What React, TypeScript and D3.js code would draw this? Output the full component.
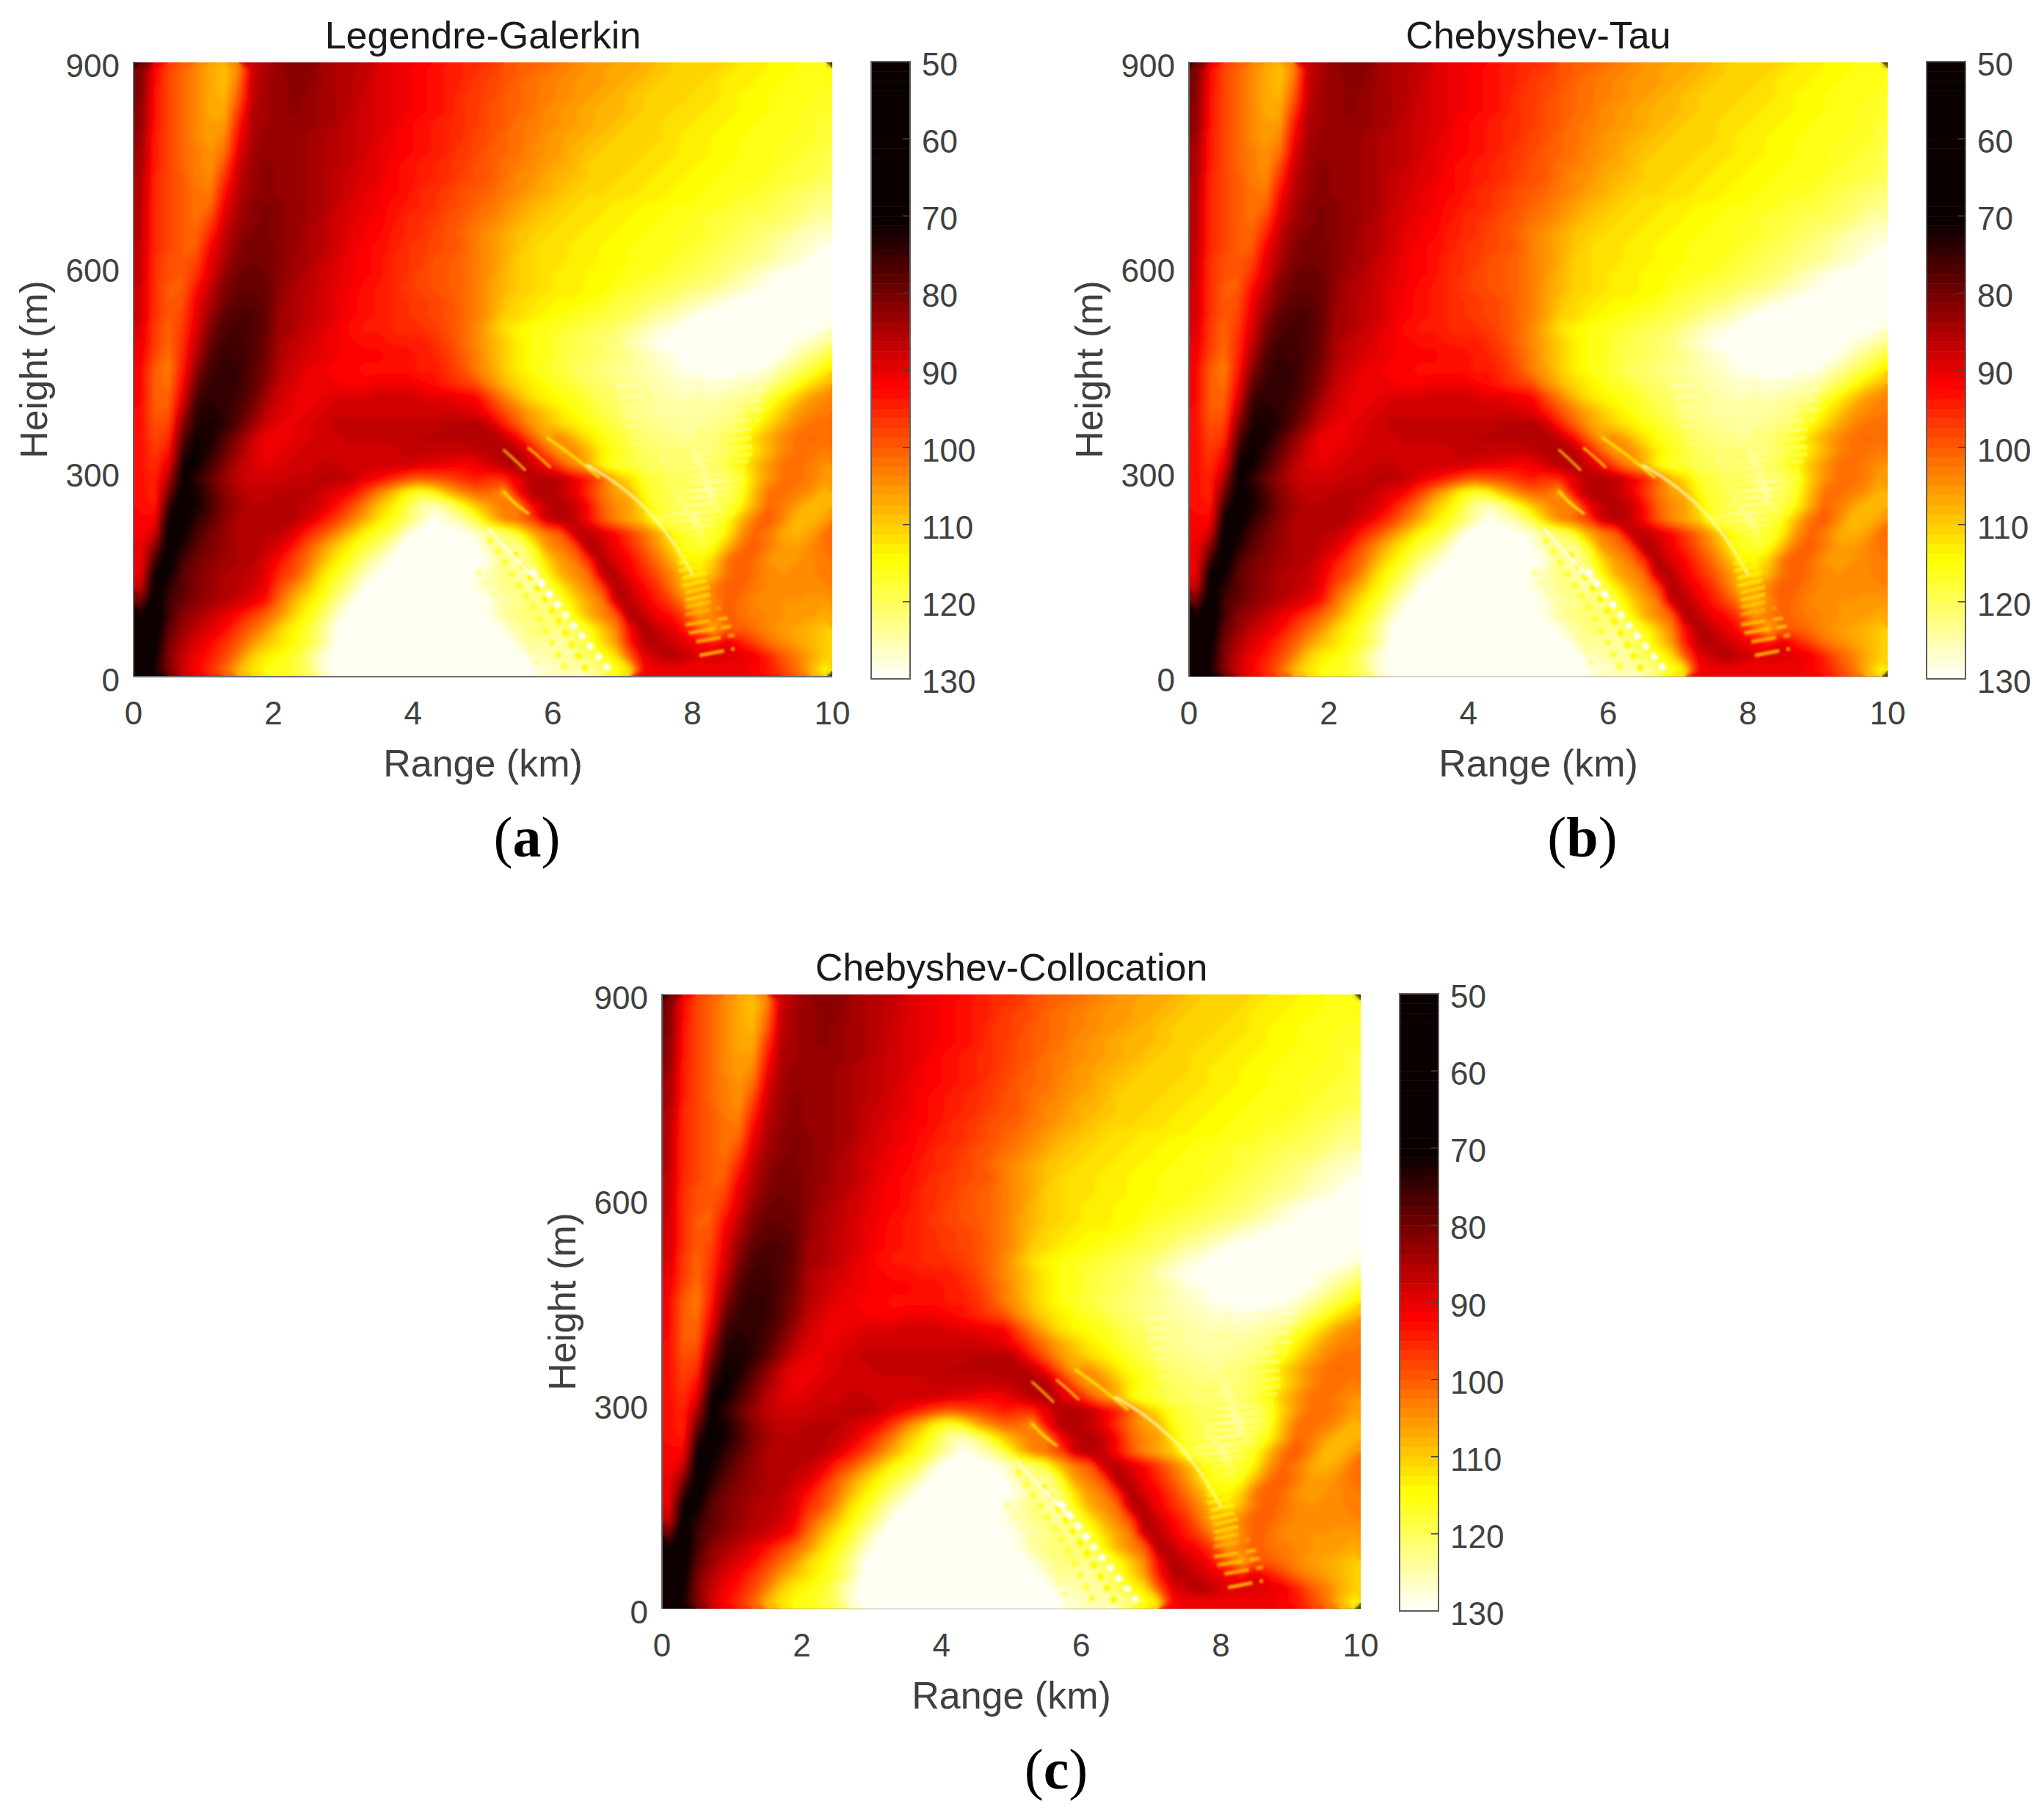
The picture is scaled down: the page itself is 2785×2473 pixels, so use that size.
import React from 'react';
import * as d3 from 'd3';

// Field, in dB. Rows run from 890 m down to 10 m (20 m cells),
// columns from 0.1 km to 9.9 km (0.2 km cells). The three panels look identical at this scale.
const fieldRows: number[][] = [
  [80,92,98,101,104,107,109,104,88,85, 83,82,82,84,85,86,87,89,90,91, 92,93,94,95,96,97,99,100,101,102, 103,104,105,106,107,107,108,109,110,110, 111,111,112,113,113,114,114,115,115,116],
  [81,92,98,101,104,107,109,102,87,84, 83,82,82,84,85,86,87,89,90,91, 92,93,94,95,97,98,99,101,102,103, 104,105,105,106,107,108,109,110,110,111, 111,112,113,113,114,114,115,115,116,116],
  [81,93,98,101,104,107,108,100,87,84, 83,82,83,84,85,86,88,89,90,91, 92,93,94,96,97,98,100,101,102,103, 104,105,106,107,108,109,110,110,111,111, 112,112,113,114,114,115,115,116,116,117],
  [82,93,98,101,104,107,107,97,86,84, 83,82,83,84,85,86,88,89,90,91, 92,93,94,96,97,99,100,101,102,104, 105,106,107,108,108,109,110,111,111,112, 112,113,113,114,114,115,116,116,117,117],
  [82,93,98,101,104,106,106,94,85,84, 83,83,83,84,85,87,88,89,90,92, 93,94,95,96,97,99,100,102,103,104, 105,106,107,108,109,110,111,111,112,112, 113,113,114,114,115,115,116,116,117,118],
  [83,94,98,101,104,106,104,92,85,83, 83,83,84,85,86,87,88,89,91,92, 93,94,95,96,98,99,101,102,103,105, 106,107,108,109,110,110,111,111,112,113, 113,114,114,115,115,116,116,117,117,118],
  [84,94,98,101,103,105,102,90,84,83, 83,83,84,85,86,87,88,90,91,92, 93,94,95,97,98,100,101,102,104,105, 106,108,109,110,110,111,111,112,112,113, 113,114,114,115,115,116,117,117,118,119],
  [84,94,98,101,103,105,99,88,84,82, 83,83,84,85,86,87,89,90,92,93, 94,95,96,97,99,100,102,103,104,106, 107,108,110,110,111,111,112,112,113,113, 114,114,115,115,116,116,117,118,118,119],
  [85,95,98,100,103,104,96,87,83,82, 83,83,84,85,87,88,89,90,92,93, 94,95,96,98,99,100,102,104,105,107, 108,109,110,111,111,112,112,113,113,114, 114,115,115,116,116,117,118,118,119,120],
  [85,95,98,100,102,103,93,86,83,82, 83,83,84,85,87,88,90,91,92,93, 95,96,97,99,100,101,103,104,106,107, 109,110,111,111,112,112,113,113,114,114, 115,115,116,117,117,118,119,120,121,122],
  [86,95,98,100,102,101,91,85,82,81, 82,83,84,85,87,89,90,91,93,94, 95,96,98,99,101,102,104,106,108,109, 110,111,112,112,113,113,114,114,115,115, 116,116,117,118,118,119,120,121,122,123],
  [86,95,98,100,102,98,89,84,82,81, 82,83,84,86,88,89,91,92,93,95, 96,97,99,100,102,103,105,107,109,110, 111,112,112,113,113,114,114,115,115,116, 117,118,118,119,120,120,121,122,124,125],
  [86,95,98,100,101,95,87,83,81,81, 82,83,85,86,88,90,91,92,94,95, 96,98,99,101,103,105,107,109,110,111, 112,112,113,113,114,114,115,115,116,117, 117,118,119,120,121,122,123,125,126,127],
  [87,95,98,100,100,92,86,82,80,80, 82,83,85,86,88,90,92,93,94,96, 97,98,99,100,103,105,107,109,111,112, 112,113,113,114,114,115,115,116,116,117, 118,119,120,121,122,123,125,126,127,129],
  [87,96,99,100,98,90,85,81,80,80, 82,84,85,87,89,91,92,93,95,96, 97,99,100,101,103,105,107,110,111,112, 112,113,113,114,114,115,115,116,117,118, 119,120,121,122,123,124,126,127,129,130],
  [87,96,99,100,96,89,83,80,79,80, 82,84,86,88,89,91,92,93,95,96, 98,99,100,101,103,105,108,110,111,112, 113,113,114,114,115,116,116,117,118,119, 120,121,122,124,126,128,129,130,130,130],
  [88,96,100,100,93,87,81,79,79,79, 83,85,86,88,90,91,93,94,95,97, 98,99,100,101,103,106,108,110,111,112, 113,113,114,114,116,117,118,119,120,121, 122,123,125,126,128,129,130,130,130,130],
  [88,96,100,99,91,85,80,78,78,79, 83,85,87,88,90,92,93,94,95,96, 97,98,99,101,103,106,109,111,112,113, 114,114,115,116,118,119,120,121,122,124, 125,127,128,130,130,130,130,130,130,130],
  [88,96,100,98,90,83,78,77,77,79, 84,85,87,88,90,92,93,94,95,96, 97,98,99,101,103,106,110,111,113,114, 115,116,117,118,119,120,122,124,125,127, 129,130,130,130,130,130,130,130,130,130],
  [89,97,101,97,89,81,77,76,77,79, 84,85,87,89,91,93,94,94,95,96, 96,97,99,101,104,108,112,114,115,116, 117,118,119,120,121,123,125,127,128,130, 130,130,130,130,130,130,130,130,130,128],
  [90,97,101,96,87,79,76,76,77,80, 85,87,88,90,91,92,93,93,94,94, 94,96,98,101,104,107,110,113,115,116, 118,119,120,121,122,125,127,129,130,130, 130,130,130,130,130,130,129,128,126,124],
  [91,98,102,95,85,77,75,75,77,80, 85,87,89,90,91,92,92,92,93,93, 94,95,97,100,103,107,110,113,115,116, 118,119,120,121,122,123,125,127,128,130, 130,130,130,130,130,130,128,125,122,119],
  [92,100,103,94,82,76,74,75,78,81, 86,88,90,91,92,92,93,93,93,93, 94,94,96,99,103,106,110,113,115,117, 118,120,121,122,123,124,125,126,127,129, 129,130,130,129,129,127,124,121,118,114],
  [92,100,102,92,79,75,74,75,78,82, 87,89,91,91,91,92,92,91,91,91, 92,93,95,97,99,104,108,111,113,115, 117,118,120,121,122,123,124,125,126,127, 127,128,128,126,126,123,120,116,112,109],
  [92,100,101,90,76,74,74,76,79,84, 88,90,91,90,89,89,89,88,88,88, 89,90,90,91,92,98,103,108,112,114, 115,116,118,120,121,122,123,124,125,126, 125,126,125,124,122,118,114,110,106,104],
  [93,100,100,86,74,73,74,77,81,86, 89,90,90,89,88,88,88,88,88,88, 88,88,88,89,90,94,99,103,107,110, 113,115,117,119,120,122,123,124,124,124, 124,124,123,121,118,114,110,106,104,103],
  [93,99,98,82,73,72,74,78,83,88, 90,90,89,88,87,87,87,87,87,87, 87,87,86,86,85,88,94,100,105,108, 111,113,115,117,119,121,122,123,124,124, 124,123,122,119,115,111,107,104,102,102],
  [93,98,96,78,71,72,77,82,87,91, 91,90,89,88,88,87,87,87,87,87, 86,86,86,86,85,85,87,92,100,106, 104,108,112,115,117,119,121,122,123,124, 122,122,119,115,111,107,104,102,101,102],
  [93,97,93,75,70,74,79,84,88,91, 90,89,88,88,88,88,88,88,88,87, 87,87,87,87,87,86,85,86,91,100, 106,104,108,113,116,118,120,121,122,122, 124,122,120,116,112,108,104,102,102,103],
  [93,96,90,71,71,76,81,86,89,90, 89,88,88,87,87,88,88,88,88,88, 89,90,91,92,91,88,86,85,88,92, 98,104,107,114,117,118,120,121,122,122, 124,121,118,114,109,105,102,102,103,105],
  [93,95,85,70,74,79,83,87,88,88, 88,87,87,86,86,87,90,92,95,98, 100,99,98,96,94,96,95,90,86,85, 86,90,94,100,108,112,116,118,120,121, 123,124,122,117,110,105,102,102,103,106],
  [93,95,80,69,72,77,82,85,87,87, 86,86,86,88,90,92,97,103,108,114, 117,114,108,104,101,101,106,92,86,85, 87,90,96,102,106,108,115,118,120,122, 125,124,122,116,108,102,102,103,105,108],
  [93,94,75,68,72,76,81,84,86,86, 85,86,87,89,93,98,103,109,113,118, 124,126,122,116,110,106,103,104,92,87, 85,87,92,100,104,106,112,117,120,122, 124,122,119,114,107,101,103,106,109,108],
  [92,92,70,69,74,78,82,85,86,86, 85,86,89,93,97,102,107,112,116,120, 125,129,127,124,118,110,104,102,98,88, 85,87,92,99,104,107,110,118,122,123, 124,121,115,108,102,100,104,109,108,106],
  [92,88,68,71,76,80,83,85,86,86, 87,90,95,99,104,109,114,117,120,127, 130,130,130,129,127,122,121,116,108,103, 100,88,86,89,92,97,102,107,113,118, 120,118,113,105,101,103,107,108,106,102],
  [91,82,67,73,78,81,83,85,85,87, 89,94,100,105,110,114,118,121,126,130, 130,130,130,130,129,125,122,124,116,106, 103,99,85,87,91,95,100,105,111,116, 118,115,108,102,100,103,106,106,104,102],
  [91,76,67,76,80,82,84,85,86,89, 93,98,102,108,113,117,122,126,129,130, 130,130,130,130,130,128,123,125,120,112, 106,103,96,85,89,92,97,102,107,113, 114,110,102,100,102,105,106,105,104,103],
  [90,70,70,78,81,83,85,86,87,90, 96,99,105,112,116,121,126,129,130,130, 130,130,130,130,128,125,122,125,124,115, 108,105,102,87,86,91,95,99,104,109, 112,108,102,100,102,104,105,104,104,103],
  [88,68,74,78,81,83,85,86,88,91, 99,104,109,114,119,124,129,130,130,130, 130,130,130,130,128,126,123,122,125,120, 114,108,104,98,85,88,92,96,102,108, 106,103,100,101,103,104,104,104,104,104],
  [80,65,76,79,82,84,86,88,90,94, 102,108,113,117,123,128,130,130,130,130, 130,130,130,130,130,128,125,123,122,124, 118,112,107,103,88,86,90,94,98,104, 108,104,100,102,104,104,105,105,106,106],
  [72,64,76,82,84,87,90,93,97,101, 105,111,115,120,126,130,130,130,130,130, 130,130,130,130,130,128,124,122,122,122, 120,115,108,104,100,85,87,91,93,98, 106,103,100,102,103,104,105,105,106,107],
  [68,66,78,83,87,89,92,97,101,105, 111,114,118,123,129,130,130,130,130,130, 130,130,130,130,130,130,128,125,122,122, 123,120,116,110,104,92,85,87,90,94, 100,108,100,100,102,104,106,107,108,110],
  [65,68,80,85,89,92,96,100,105,109, 112,115,118,123,129,130,130,130,130,130, 130,130,130,130,130,130,130,127,123,124, 125,122,118,112,106,94,86,86,88,90, 92,94,90,94,98,102,104,106,108,110],
  [63,70,81,87,91,94,98,103,110,113, 115,117,122,127,130,130,130,130,130,130, 130,130,130,130,130,130,130,130,127,125, 124,124,120,116,112,100,90,87,85,87, 89,89,89,90,91,95,100,103,107,110],
  [62,72,81,88,92,96,101,108,112,115, 116,118,121,127,130,130,130,130,130,130, 130,130,130,130,130,130,130,130,129,127, 126,125,125,122,116,112,92,91,91,91, 91,91,91,91,92,94,98,102,108,114],
];

// thin ridges narrower than a cell: [range km, height m] points and their level
const ridgeLines: [number, number][][] = [
  [[5.3, 332], [5.45, 318], [5.6, 303]],
  [[5.65, 335], [5.8, 322], [5.96, 307]],
  [[5.92, 350], [6.3, 322], [6.66, 292]],
  [[6.5, 310], [6.95, 280], [7.36, 243], [7.7, 200], [8.0, 150]],
  [[5.3, 271], [5.45, 255], [5.65, 239]],
  [[5.08, 217], [5.4, 180], [5.79, 141]],
];
const ridgeLevels = [110, 112, 114, 126, 114, 130];

// beaded stripes under the falling lobe
const beadLines: [number, number][][] = [
  [[4.92, 156], [5.4, 85], [5.83, 10]],
  [[5.08, 203], [5.7, 105], [6.2, 6]],
  [[5.44, 182], [6.0, 95], [6.5, 6]],
  [[5.7, 156], [6.3, 75], [6.84, 6]],
];
const beadLevels = [124, 118, 114, 130];

// interference ripples in the V near 8 km
const rippleHeights = [36, 56, 69, 81, 96, 107, 117, 128, 138, 149, 160, 171, 181, 192, 203, 214, 225, 235, 246, 257, 267, 278, 289, 300, 310, 321, 332, 345, 358, 372, 386, 400, 415, 430];
const rippleStarts = [8.1, 8.05, 7.95, 7.9, 7.9, 7.9, 7.9, 7.9, 7.85, 7.85, 7.8, 7.8, 7.8, 7.75, 7.75, 7.7, 7.65, 7.6, 7.5, 7.4, 7.4, 7.35, 7.3, 7.3, 7.25, 7.2, 7.15, 7.1, 7.1, 7.05, 7.0, 6.95, 6.95, 6.9];
const rippleEnds = [8.6, 8.6, 8.55, 8.5, 8.4, 8.35, 8.3, 8.3, 8.3, 8.25, 8.25, 8.25, 8.3, 8.35, 8.4, 8.45, 8.5, 8.6, 8.6, 8.65, 8.7, 8.7, 8.75, 8.75, 8.8, 8.85, 8.85, 8.9, 8.95, 8.95, 9.0, 9.0, 9.05, 9.1];
const rippleLevels = [112, 110, 110, 110, 108, 110, 112, 112, 113, 114, 114, 115, 115, 116, 116, 116, 117, 117, 117, 118, 118, 118, 119, 119, 120, 120, 121, 122, 122, 123, 124, 124, 125, 126];

const rangeTicks = [0, 2, 4, 6, 8, 10];
const heightTicks = [0, 300, 600, 900];
const levelTicks = [50, 60, 70, 80, 90, 100, 110, 120, 130];

const nCols = 50;
const nRows = 45;
const colStep = 0.2;
const rowStep = 20;
const levels = d3.range(64).map(i => 50 + i * 1.25);

fieldRows.forEach((row, i) => {
  if (row.length !== nCols) throw new Error(`row ${i} has ${row.length} values`);
});

const colormap = d3.scaleLinear<string>()
  .domain([50, 71, 92, 114.5, 130])
  .range(['#0a0000', '#0a0000', '#ff0000', '#ffff00', '#ffffff'])
  .clamp(true);

const bands = d3.contours().size([nCols, nRows]).thresholds(levels)(fieldRows.flat());

const plotW = 952;
const plotH = 837;
const sans = 'Liberation Sans, Arial, sans-serif';
const tickColor = '#404040';

const HeatPanel = ({ id, title, caption, left, top, captionX, captionY, baseOpacity }: any) => {
  const x = d3.scaleLinear([0, 10], [left, left + plotW]);
  const y = d3.scaleLinear([0, 900], [top + plotH, top]);
  const cbarLeft = left + 1005;
  const cbarW = 53;
  const cbarY = d3.scaleLinear([50, 130], [top - 1, top + 840]);

  const path = d3.geoPath(d3.geoTransform({
    point(cx: number, cy: number) {
      (this as any).stream.point(x(cx * colStep), y(900 - cy * rowStep));
    },
  }));
  const line = d3.line<[number, number]>().x(d => x(d[0])).y(d => y(d[1])).curve(d3.curveCatmullRom);

  return (
    <g>
      <clipPath id={`clip-${id}`}>
        <rect x={left} y={top} width={plotW} height={plotH} />
      </clipPath>
      <g clipPath={`url(#clip-${id})`}>
        <g id={`field-${id}`}>
          <rect x={left} y={top} width={plotW} height={plotH} fill={colormap(50)} />
          {bands.map((b, i) => (
            <path key={i} d={path(b as any) || ''} fill={colormap(b.value + 0.6)} />
          ))}
        </g>
        <use href={`#field-${id}`} filter="url(#soft)" />
        <g filter="url(#softer)">
          {beadLines.map((pts, i) => (
            <path key={i} d={line(pts) || ''} fill="none" stroke={colormap(beadLevels[i])} strokeWidth={8} strokeDasharray="9 9" />
          ))}
          {ridgeLines.map((pts, i) => (
            <path key={i} d={line(pts) || ''} fill="none" stroke={colormap(ridgeLevels[i])} strokeWidth={3.5} strokeLinecap="round" strokeOpacity={0.8} />
          ))}
          {rippleHeights.map((h, i) => (
            <path key={i}
              d={line([[rippleStarts[i], h - 5], [rippleEnds[i], h + 5]]) || ''}
              fill="none" stroke={colormap(rippleLevels[i])} strokeWidth={5} strokeOpacity={0.75} strokeDasharray="34 10" />
          ))}
        </g>
      </g>
      <line x1={left} x2={left} y1={top - 1} y2={top + plotH} stroke="#606060" strokeWidth={2} />
      <line x1={left} x2={left + plotW} y1={top + plotH} y2={top + plotH} stroke="#707070" strokeWidth={2} strokeOpacity={baseOpacity} />

      <text x={left + plotW / 2} y={top - 19} textAnchor="middle" fontFamily={sans} fontSize={52} fill="#1a1a1a">{title}</text>

      {rangeTicks.map(t => (
        <text key={t} x={x(t)} y={top + plotH + 65} textAnchor="middle" fontFamily={sans} fontSize={44} fill={tickColor}>{t}</text>
      ))}
      {heightTicks.map(t => (
        <text key={t} x={left - 19} y={y(t) + 20} textAnchor="end" fontFamily={sans} fontSize={44} fill={tickColor}>{t}</text>
      ))}
      <text x={left + plotW / 2} y={top + plotH + 136} textAnchor="middle" fontFamily={sans} fontSize={52} fill={tickColor}>Range (km)</text>
      <text transform={`translate(${left - 118},${top + plotH / 2}) rotate(-90)`} textAnchor="middle" fontFamily={sans} fontSize={52} fill={tickColor}>Height (m)</text>

      {levels.map(l => (
        <rect key={l} x={cbarLeft} y={cbarY(l)} width={cbarW} height={cbarY(l + 1.25) - cbarY(l) + 0.5} fill={colormap(l + 0.6)} />
      ))}
      <rect x={cbarLeft} y={cbarY(50)} width={cbarW} height={cbarY(130) - cbarY(50)} fill="none" stroke="#606060" strokeWidth={2} />
      {levelTicks.map(t => (
        <g key={t}>
          {t > 50 && t < 130 && <line x1={cbarLeft + cbarW - 10} x2={cbarLeft + cbarW} y1={cbarY(t)} y2={cbarY(t)} stroke="#404040" strokeWidth={1.5} />}
          <text x={cbarLeft + cbarW + 16} y={cbarY(t) + 19} fontFamily={sans} fontSize={44} fill={tickColor}>{t}</text>
        </g>
      ))}

      <text x={captionX} y={captionY} textAnchor="middle" fontFamily="Liberation Serif, serif" fontSize={78} fill="#000">
        ({<tspan fontWeight="bold">{caption}</tspan>})
      </text>
    </g>
  );
};

export default function App() {
  return (
    <svg width={2785} height={2473} style={{ position: 'absolute', left: 0, top: 0, background: '#fff' }}>
      <defs>
        <filter id="soft" x="-2%" y="-2%" width="104%" height="104%">
          <feGaussianBlur stdDeviation={3} />
        </filter>
        <filter id="softer" x="-2%" y="-2%" width="104%" height="104%">
          <feGaussianBlur stdDeviation={1.5} />
        </filter>
      </defs>
      <HeatPanel id="a" title="Legendre-Galerkin" caption="a" left={182} top={85} captionX={718} captionY={1167} baseOpacity={1} />
      <HeatPanel id="b" title="Chebyshev-Tau" caption="b" left={1620} top={85} captionX={2156} captionY={1167} baseOpacity={0.3} />
      <HeatPanel id="c" title="Chebyshev-Collocation" caption="c" left={902} top={1355} captionX={1439} captionY={2437} baseOpacity={0.2} />
    </svg>
  );
}
